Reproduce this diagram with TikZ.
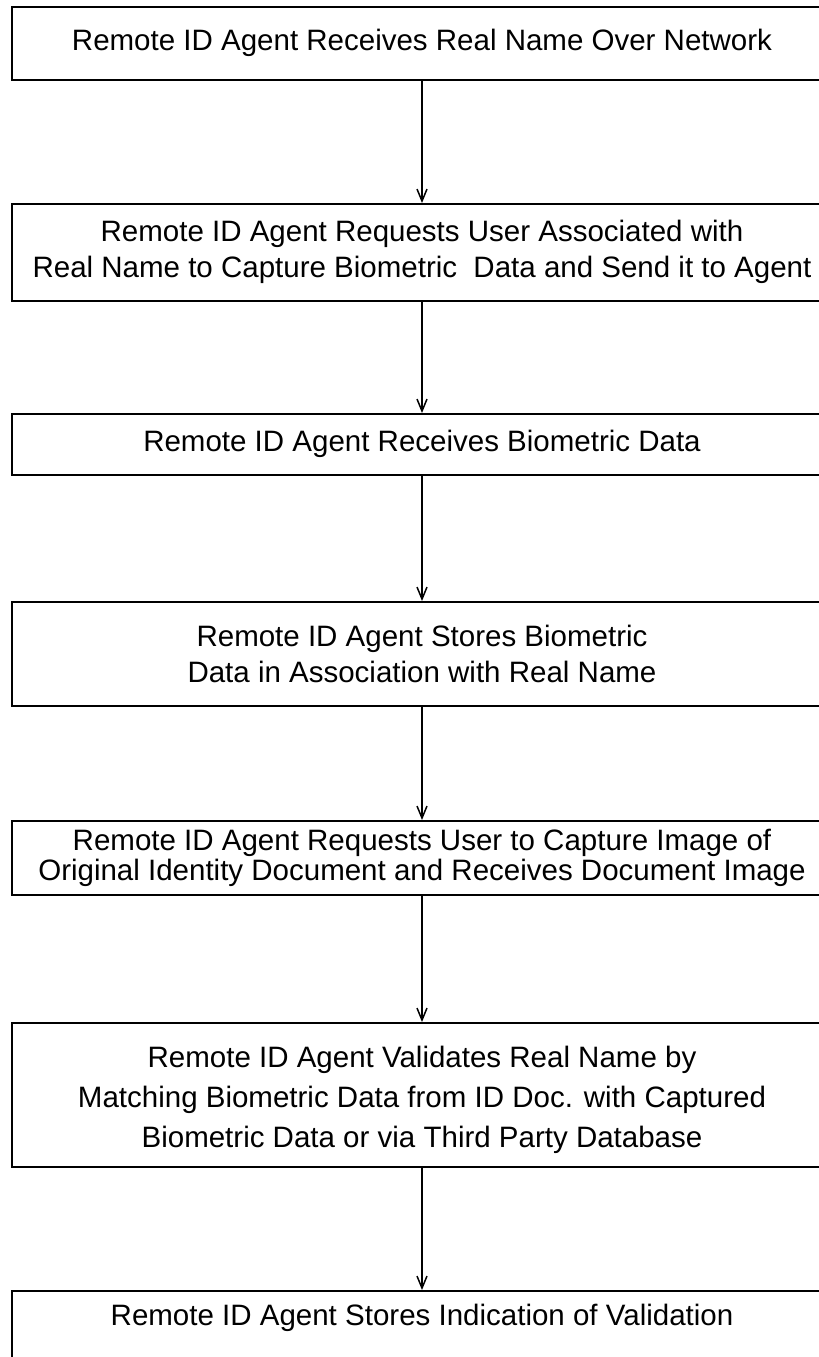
\documentclass[tikz,border=0pt]{standalone}
\usepackage{fontspec}
\setmainfont{Liberation Sans}
\usetikzlibrary{arrows.meta}
\tikzset{
  box/.style={draw, line width=1.7pt, minimum width=820pt, inner sep=0pt,
    align=center, anchor=north, font=\fontsize{29.5}{36}\selectfont},
  arr/.style={-{Straight Barb[length=12pt,width=10pt]}, line width=1.5pt}
}
\begin{document}
\begin{tikzpicture}[x=1pt,y=-1pt]
\useasboundingbox (0,0) rectangle (819,1357);
\clip (0,0) rectangle (819,1357);
\node[box, minimum height=73pt] (b1) at (422,6) {Remote ID Agent Receives Real Name Over Network};
\node[box, minimum height=97pt] (b2) at (422,203) {Remote ID Agent Requests User Associated with\\Real Name to Capture Biometric\ \ Data and Send it to Agent};
\node[box, minimum height=61pt] (b3) at (422,413) {Remote ID Agent Receives Biometric Data};
\node[box, minimum height=104pt] (b4) at (422,601) {Remote ID Agent Stores Biometric\\Data in Association with Real Name};
\node[box, minimum height=74pt, font=\fontsize{29.5}{30}\selectfont] (b5) at (422,820) {Remote ID Agent Requests User to Capture Image of\\Original Identity Document and Receives Document Image};
\node[box, minimum height=144pt, font=\fontsize{29.5}{40}\selectfont] (b6) at (422,1022) {\rule{0pt}{32pt}Remote ID Agent Validates Real Name by\\Matching Biometric Data from ID Doc. with Captured\\Biometric Data or via Third Party Database};
\node[box, text height=35pt, text depth=75pt] (b7) at (422,1290) {Remote ID Agent Stores Indication of Validation};
\draw[arr] (b1) -- (b2);
\draw[arr] (b2) -- (b3);
\draw[arr] (b3) -- (b4);
\draw[arr] (b4) -- (b5);
\draw[arr] (b5) -- (b6);
\draw[arr] (b6) -- (b7);
\end{tikzpicture}
\end{document}
